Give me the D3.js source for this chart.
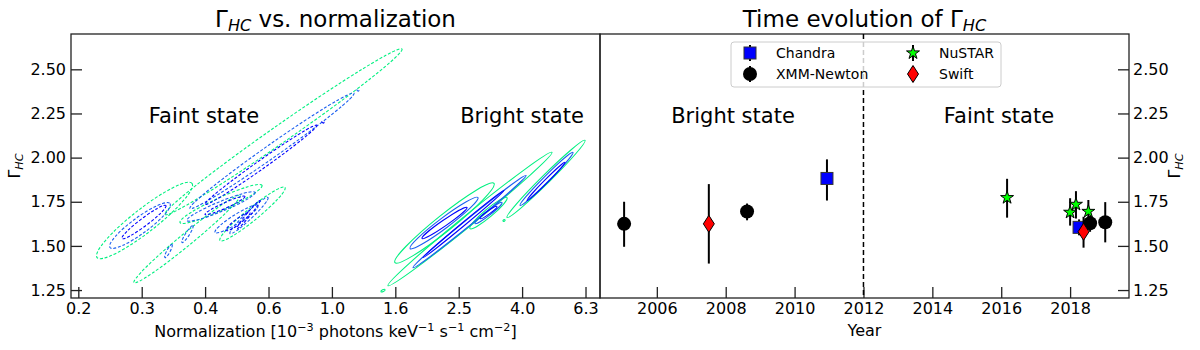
<!DOCTYPE html>
<html>
<head>
<meta charset="utf-8">
<script src="https://cdn.jsdelivr.net/npm/d3@7"></script>
<style>
  body { margin: 0; background: #fff; }
  text { font-family: "DejaVu Sans", sans-serif; fill: #000; }
</style>
</head>
<body>
<svg id="chart" width="1200" height="350"></svg>
<script>
// ---------- data ----------
// contour ellipses: [norm tip1, gamma tip1, norm tip2, gamma tip2, vertical half-width in gamma]
const faintOuter = [
  [0.2975, 1.678, 1.664, 2.615, 0.060],
  [0.1816, 1.434, 0.3620, 1.854, 0.085],
  [0.2375, 1.292, 0.5130, 1.786, 0.045],
  [0.4436, 1.530, 0.7110, 1.831, 0.045],
  [0.3318, 1.632, 0.6018, 1.843, 0.040]
];
const faintMid = [
  [0.3567, 1.712, 1.174, 2.365, 0.045],
  [1.200, 2.385, 1.216, 2.379, 0.004],
  [0.1995, 1.491, 0.3085, 1.740, 0.057],
  [0.2975, 1.434, 0.3130, 1.508, 0.020],
  [0.3367, 1.519, 0.3646, 1.615, 0.020],
  [0.4771, 1.570, 0.6287, 1.774, 0.028],
  [0.3490, 1.644, 0.5721, 1.803, 0.030],
  [0.4279, 1.576, 0.5847, 1.729, 0.030]
];
const faintInner = [
  [0.3978, 1.735, 0.8975, 2.184, 0.030],
  [0.930, 2.204, 0.944, 2.198, 0.004],
  [0.2178, 1.542, 0.2996, 1.729, 0.028],
  [0.5019, 1.598, 0.5932, 1.757, 0.017],
  [0.3978, 1.678, 0.5318, 1.780, 0.017],
  [0.4634, 1.587, 0.5515, 1.689, 0.020]
];
const brightOuter = [
  [1.581, 1.405, 3.246, 1.854, 0.060],
  [1.503, 1.275, 4.947, 2.030, 0.040],
  [2.726, 1.598, 3.568, 1.774, 0.030],
  [3.568, 1.661, 6.288, 2.098, 0.034],
  [1.428, 1.241, 1.471, 1.252, 0.006],
  [3.465, 1.641, 3.517, 1.647, 0.004]
];
const brightMid = [
  [1.764, 1.485, 2.890, 1.774, 0.037],
  [1.803, 1.377, 4.097, 1.899, 0.023],
  [2.828, 1.627, 3.440, 1.746, 0.017],
  [3.922, 1.729, 5.762, 2.030, 0.023]
];
const brightInner = [
  [1.924, 1.542, 2.668, 1.718, 0.020],
  [1.939, 1.434, 3.491, 1.814, 0.012],
  [2.932, 1.655, 3.317, 1.723, 0.011],
  [4.127, 1.757, 5.436, 1.973, 0.014]
];

// time evolution: year, gamma, lower, upper
const chandra = [
  { year: 2010.94, g: 1.882, lo: 1.757, hi: 1.990 },
  { year: 2018.26, g: 1.605, lo: 1.560, hi: 1.650 }
];
const xmm = [
  { year: 2005.05, g: 1.625, lo: 1.495, hi: 1.750 },
  { year: 2008.62, g: 1.695, lo: 1.645, hi: 1.740 },
  { year: 2018.58, g: 1.628, lo: 1.580, hi: 1.670 },
  { year: 2019.02, g: 1.634, lo: 1.520, hi: 1.748 }
];
const nustar = [
  { year: 2016.17, g: 1.773, lo: 1.660, hi: 1.880 },
  { year: 2018.00, g: 1.690, lo: 1.615, hi: 1.770 },
  { year: 2018.17, g: 1.735, lo: 1.655, hi: 1.810 },
  { year: 2018.53, g: 1.695, lo: 1.630, hi: 1.760 }
];
const swift = [
  { year: 2007.51, g: 1.625, lo: 1.400, hi: 1.850 },
  { year: 2018.39, g: 1.580, lo: 1.490, hi: 1.665 }
];

const normTicks = [0.1585, 0.2512, 0.3981, 0.6310, 1.0, 1.585, 2.512, 3.981, 6.310];
const normTickLabels = ['0.2', '0.3', '0.4', '0.6', '1.0', '1.6', '2.5', '4.0', '6.3'];
const gammaTicks = [1.25, 1.5, 1.75, 2.0, 2.25, 2.5];
const yearTicks = [2006, 2008, 2010, 2012, 2014, 2016, 2018];

// ---------- layout ----------
const yTop = 34, yBot = 298;
const L = { x0: 71, x1: 600 };
const R = { x0: 600, x1: 1129 };
const svg = d3.select('#chart');

const xN = d3.scaleLog().domain([0.1503, 7.01]).range([L.x0, L.x1]);
const xY = d3.scaleLinear().domain([2004.35, 2019.71]).range([R.x0, R.x1]);
const yG = d3.scaleLinear().domain([1.205, 2.70]).range([yBot, yTop]);

const cOuter = '#00f080', cMid = '#1a5ff0', cInner = '#0000ff';

// ---------- left panel: contours ----------
const gc = svg.append('g');
function drawEllipses(rows, color, dash) {
  gc.append('g').selectAll('ellipse')
    .data(rows)
    .join('ellipse')
    .each(function (d) {
      const x1 = xN(d[0]), y1 = yG(d[1]), x2 = xN(d[2]), y2 = yG(d[3]);
      const cx = (x1 + x2) / 2, cy = (y1 + y2) / 2;
      const ang = Math.atan2(y2 - y1, x2 - x1);
      const rx = Math.hypot(x2 - x1, y2 - y1) / 2;
      const ry = Math.max(0.8, Math.abs(yG(d[1] + d[4]) - yG(d[1])) * Math.abs(Math.cos(ang)));
      d3.select(this)
        .attr('cx', cx).attr('cy', cy)
        .attr('rx', rx).attr('ry', ry)
        .attr('transform', `rotate(${ang * 180 / Math.PI},${cx},${cy})`);
    })
    .attr('fill', 'none')
    .attr('stroke', color)
    .attr('stroke-width', 1.1)
    .attr('stroke-dasharray', dash ? '3,1.8' : null);
}
drawEllipses(faintOuter, cOuter, true);
drawEllipses(faintMid, cMid, true);
drawEllipses(faintInner, cInner, true);
drawEllipses(brightOuter, cOuter, false);
drawEllipses(brightMid, cMid, false);
drawEllipses(brightInner, cInner, false);

// ---------- axes ----------
const tickStyle = g => {
  g.select('.domain').remove();
  g.selectAll('line').attr('stroke', '#222').attr('stroke-width', 1.3);
  g.selectAll('text').attr('font-size', 16).attr('font-family', 'DejaVu Sans');
};
svg.append('g').attr('transform', `translate(0,${yBot})`)
  .call(d3.axisBottom(xN).tickValues(normTicks)
    .tickFormat((d, i) => normTickLabels[i])
    .tickSizeInner(-11).tickSizeOuter(0).tickPadding(5))
  .call(tickStyle);
svg.append('g').attr('transform', `translate(${L.x0},0)`)
  .call(d3.axisLeft(yG).tickValues(gammaTicks).tickFormat(d3.format('.2f'))
    .tickSizeInner(-11).tickSizeOuter(0).tickPadding(5))
  .call(tickStyle);
svg.append('g').attr('transform', `translate(0,${yBot})`)
  .call(d3.axisBottom(xY).tickValues(yearTicks).tickFormat(d3.format('d'))
    .tickSizeInner(-11).tickSizeOuter(0).tickPadding(5))
  .call(tickStyle);
svg.append('g').attr('transform', `translate(${R.x1},0)`)
  .call(d3.axisRight(yG).tickValues(gammaTicks).tickFormat(d3.format('.2f'))
    .tickSizeInner(-11).tickSizeOuter(0).tickPadding(4))
  .call(tickStyle);

// frames
[L, R].forEach(p => {
  svg.append('rect')
    .attr('x', p.x0).attr('y', yTop)
    .attr('width', p.x1 - p.x0).attr('height', yBot - yTop)
    .attr('fill', 'none').attr('stroke', '#222').attr('stroke-width', 1.3);
});

// ---------- right panel ----------
svg.append('line')
  .attr('x1', xY(2012)).attr('x2', xY(2012))
  .attr('y1', yTop).attr('y2', yBot)
  .attr('stroke', '#000').attr('stroke-width', 1.5)
  .attr('stroke-dasharray', '5,3');

const diamondPath = 'M0,-8.5L5.5,0L0,8.5L-5.5,0Z';
const starPath = d3.symbol(d3.symbolStar, 52)();

function drawSeries(rows, marker) {
  const g = svg.append('g');
  g.selectAll('line').data(rows).join('line')
    .attr('x1', d => xY(d.year)).attr('x2', d => xY(d.year))
    .attr('y1', d => yG(d.lo)).attr('y2', d => yG(d.hi))
    .attr('stroke', '#000').attr('stroke-width', 2);
  const m = g.selectAll('.m').data(rows).join('g')
    .attr('class', 'm')
    .attr('transform', d => `translate(${xY(d.year)},${yG(d.g)})`);
  marker(m);
}
const squareMark = s => s.append('rect').attr('x', -6).attr('y', -6).attr('width', 12).attr('height', 12)
  .attr('fill', '#0000ff').attr('stroke', '#333').attr('stroke-width', 1);
const circleMark = s => s.append('circle').attr('r', 7).attr('fill', '#000');
const starMark = s => s.append('path').attr('d', starPath)
  .attr('fill', '#00ff00').attr('stroke', '#000').attr('stroke-width', 1);
const diamondMark = s => s.append('path').attr('d', diamondPath)
  .attr('fill', '#ff0000').attr('stroke', '#000').attr('stroke-width', 1);

drawSeries(chandra, squareMark);
drawSeries(xmm, circleMark);
drawSeries(nustar, starMark);
drawSeries(swift, diamondMark);

// legend
const lg = svg.append('g');
lg.append('rect').attr('x', 731).attr('y', 42).attr('width', 270).attr('height', 45)
  .attr('rx', 3).attr('fill', '#fff').attr('fill-opacity', 0.8)
  .attr('stroke', '#ccc').attr('stroke-width', 1);
const legendItems = [
  { name: 'Chandra', mark: squareMark, x: 750, y: 53 },
  { name: 'XMM-Newton', mark: circleMark, x: 750, y: 74 },
  { name: 'NuSTAR', mark: starMark, x: 913, y: 53 },
  { name: 'Swift', mark: diamondMark, x: 913, y: 74 }
];
legendItems.forEach(it => {
  const g = lg.append('g').attr('transform', `translate(${it.x},${it.y})`);
  g.append('line').attr('y1', -8).attr('y2', 8).attr('stroke', '#000').attr('stroke-width', 2);
  it.mark(g);
  lg.append('text').attr('x', it.x + 26).attr('y', it.y + 5)
    .attr('font-size', 14).text(it.name);
});

// ---------- texts ----------
function gammaLabel(t, fs) {
  t.append('tspan').text('Γ');
  t.append('tspan').attr('font-size', fs * 0.7).attr('font-style', 'italic')
    .attr('dy', fs * 0.18).text('HC');
}
const t1 = svg.append('text').attr('x', (L.x0 + L.x1) / 2).attr('y', 27)
  .attr('text-anchor', 'middle').attr('font-size', 23);
gammaLabel(t1, 23);
t1.append('tspan').attr('dy', -23 * 0.18).text(' vs. normalization');

const t2 = svg.append('text').attr('x', (R.x0 + R.x1) / 2).attr('y', 27)
  .attr('text-anchor', 'middle').attr('font-size', 23);
t2.append('tspan').text('Time evolution of ');
gammaLabel(t2, 23);

const states = [
  { x: 204, label: 'Faint state' },
  { x: 522, label: 'Bright state' },
  { x: 733, label: 'Bright state' },
  { x: 999, label: 'Faint state' }
];
states.forEach(s => {
  svg.append('text').attr('x', s.x).attr('y', 123)
    .attr('text-anchor', 'middle').attr('font-size', 21).text(s.label);
});

// x labels
const xl = svg.append('text').attr('x', (L.x0 + L.x1) / 2).attr('y', 337)
  .attr('text-anchor', 'middle').attr('font-size', 16);
const parts = [['Normalization [10', '−3'], [' photons keV', '−1'], [' s', '−1'], [' cm', '−2'], [']', null]];
let raised = false;
parts.forEach(p => {
  xl.append('tspan').attr('dy', raised ? 6 : 0).text(p[0]);
  raised = false;
  if (p[1]) {
    xl.append('tspan').attr('font-size', 11.2).attr('dy', -6).text(p[1]);
    raised = true;
  }
});
svg.append('text').attr('x', (R.x0 + R.x1) / 2).attr('y', 336)
  .attr('text-anchor', 'middle').attr('font-size', 16).text('Year');

// y labels
[20, 1180].forEach(x => {
  const t = svg.append('text')
    .attr('transform', `translate(${x},${(yTop + yBot) / 2}) rotate(-90)`)
    .attr('text-anchor', 'middle').attr('font-size', 16);
  gammaLabel(t, 16);
});
</script>
</body>
</html>
